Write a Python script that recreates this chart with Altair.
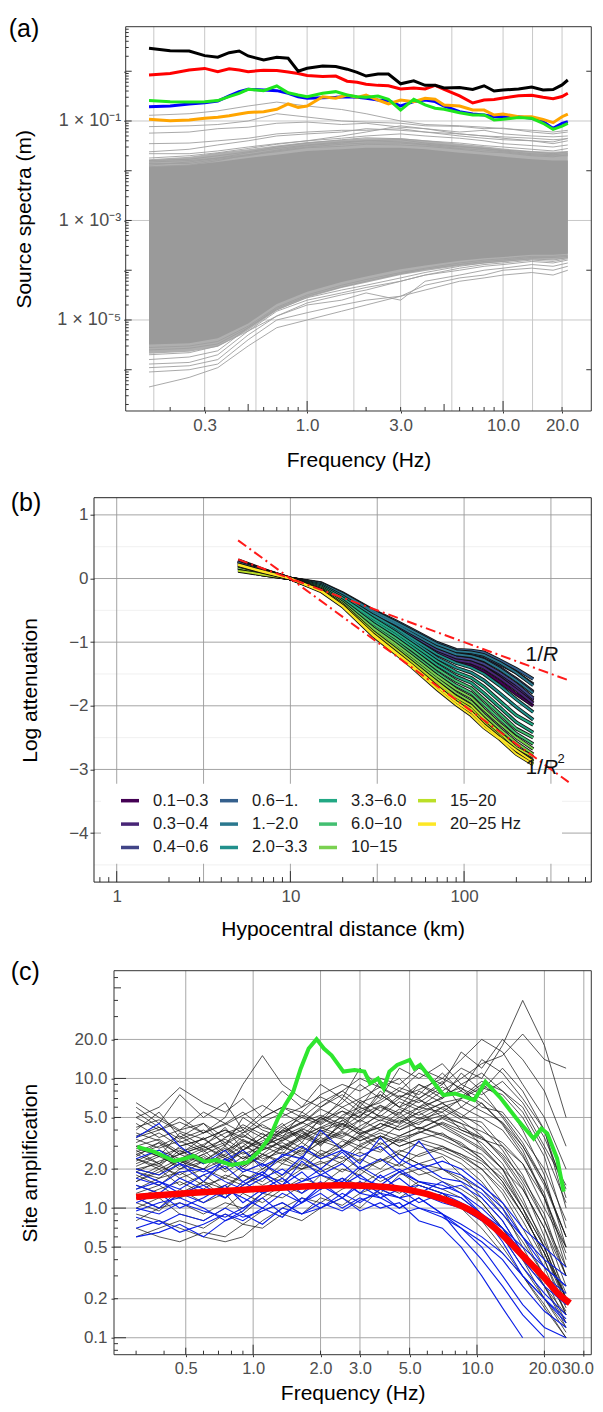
import altair as alt
import pandas as pd

FONT = "Liberation Sans"
GREY_TXT = "#4d4d4d"

# ======================= (a) Source spectra =======================
A_FREQ = [0.156, 0.2, 0.25, 0.3, 0.35, 0.4, 0.45, 0.5, 0.6, 0.7, 0.8, 0.9, 1.0, 1.2, 1.4, 1.6, 1.8, 2.0,
          2.3, 2.6, 3.0, 3.5, 4.0, 4.5, 5.0, 6.0, 7.0, 8.0, 9.0, 10.0, 12.0, 14.0, 16.0, 18.0, 20.0, 21.4]
A_BLACK = [2.89, 2.59, 2.55, 2.06, 1.91, 2.36, 2.55, 2.03, 1.68, 1.91, 1.82, 1.00, 1.15, 1.28, 1.24, 1.10, 0.95, 0.80,
           0.88, 0.88, 0.56, 0.64, 0.52, 0.52, 0.46, 0.47, 0.43, 0.51, 0.40, 0.42, 0.44, 0.48, 0.42, 0.43, 0.53, 0.667]
A_RED = [0.84, 0.90, 1.06, 1.14, 0.98, 1.12, 1.06, 0.98, 1.05, 1.03, 0.97, 0.90, 0.82, 0.78, 0.80, 0.63, 0.60, 0.55,
         0.52, 0.51, 0.44, 0.46, 0.44, 0.52, 0.43, 0.32, 0.23, 0.264, 0.27, 0.29, 0.32, 0.33, 0.30, 0.28, 0.31, 0.36]
A_GREEN = [0.257, 0.245, 0.241, 0.245, 0.257, 0.308, 0.36, 0.433, 0.407, 0.505, 0.37, 0.333, 0.308, 0.36, 0.389, 0.333,
           0.308, 0.299, 0.318, 0.273, 0.166, 0.273, 0.21, 0.18, 0.172, 0.147, 0.132, 0.132, 0.105, 0.108, 0.117, 0.113,
           0.0898, 0.068, 0.079, 0.0898]
A_BLUE = [0.194, 0.2, 0.22, 0.233, 0.252, 0.318, 0.389, 0.433, 0.42, 0.407, 0.36, 0.308, 0.286, 0.294, 0.299, 0.308,
          0.299, 0.286, 0.264, 0.257, 0.2, 0.245, 0.264, 0.245, 0.2, 0.154, 0.138, 0.132, 0.122, 0.122, 0.122, 0.113,
          0.097, 0.071, 0.0898, 0.097]
A_ORANGE = [0.108, 0.1015, 0.105, 0.113, 0.119, 0.128, 0.138, 0.148, 0.154, 0.172, 0.22, 0.188, 0.2, 0.308, 0.286, 0.333,
            0.299, 0.333, 0.264, 0.22, 0.264, 0.245, 0.286, 0.273, 0.21, 0.2, 0.166, 0.166, 0.132, 0.138, 0.122, 0.122,
            0.108, 0.0926, 0.122, 0.138]

A_GFREQ = [0.156, 0.25, 0.35, 0.5, 0.7, 1.0, 1.5, 2.0, 3.0, 4.0, 6.0, 8.0, 10.0, 14.0, 18.0, 21.4]
A_CORE_HI = [0.012, 0.013, 0.015, 0.018, 0.021, 0.025, 0.027, 0.029, 0.029, 0.027, 0.023, 0.021, 0.019, 0.017, 0.016, 0.016]
A_CORE_LO = [3.2e-6, 3.4e-6, 4.3e-6, 8.5e-6, 2.1e-5, 3.7e-5, 5.8e-5, 7.5e-5, 1.05e-4, 1.25e-4, 1.55e-4, 1.75e-4, 1.85e-4,
             2.05e-4, 2.05e-4, 2.15e-4]
A_HALO_HI = [0.017, 0.019, 0.023, 0.027, 0.032, 0.038, 0.042, 0.045, 0.045, 0.041, 0.035, 0.031, 0.028, 0.025, 0.024, 0.025]
A_HALO_LO = [2.1e-6, 2.3e-6, 2.9e-6, 6.2e-6, 1.55e-5, 2.8e-5, 4.4e-5, 5.6e-5, 8.0e-5, 9.6e-5, 1.21e-4, 1.37e-4, 1.47e-4,
             1.62e-4, 1.62e-4, 1.72e-4]
A_GREY_UP = [
    [0.13, 0.14, 0.16, 0.20, 0.24, 0.20, 0.17, 0.14, 0.10, 0.085, 0.080, 0.075, 0.070, 0.065, 0.060, 0.065],
    [0.077, 0.080, 0.085, 0.10, 0.14, 0.12, 0.10, 0.095, 0.090, 0.080, 0.078, 0.070, 0.072, 0.060, 0.055, 0.060],
    [0.057, 0.060, 0.070, 0.075, 0.090, 0.095, 0.085, 0.090, 0.075, 0.070, 0.060, 0.065, 0.055, 0.050, 0.048, 0.050],
    [0.035, 0.036, 0.040, 0.045, 0.055, 0.060, 0.065, 0.065, 0.070, 0.060, 0.055, 0.050, 0.048, 0.045, 0.042, 0.044],
    [0.024, 0.027, 0.033, 0.040, 0.050, 0.055, 0.060, 0.070, 0.065, 0.060, 0.050, 0.045, 0.042, 0.040, 0.038, 0.045],
    [0.022, 0.022, 0.025, 0.030, 0.035, 0.040, 0.050, 0.060, 0.080, 0.070, 0.055, 0.050, 0.045, 0.040, 0.035, 0.040],
    [0.018, 0.020, 0.023, 0.028, 0.034, 0.040, 0.045, 0.050, 0.055, 0.050, 0.045, 0.040, 0.035, 0.032, 0.030, 0.033],
    [0.016, 0.017, 0.020, 0.024, 0.030, 0.036, 0.042, 0.046, 0.044, 0.040, 0.036, 0.032, 0.030, 0.027, 0.025, 0.028],
    [0.015, 0.016, 0.018, 0.021, 0.026, 0.032, 0.036, 0.040, 0.038, 0.034, 0.030, 0.028, 0.026, 0.024, 0.022, 0.024],
    [0.013, 0.015, 0.018, 0.023, 0.028, 0.033, 0.038, 0.040, 0.042, 0.036, 0.031, 0.028, 0.025, 0.022, 0.021, 0.022],
    [0.014, 0.014, 0.017, 0.020, 0.025, 0.030, 0.034, 0.036, 0.036, 0.033, 0.028, 0.026, 0.024, 0.021, 0.020, 0.020],
    [0.012, 0.013, 0.016, 0.021, 0.024, 0.029, 0.031, 0.034, 0.033, 0.031, 0.027, 0.024, 0.023, 0.020, 0.019, 0.021],
]
A_GREY_LOW = [
    [4.5e-7, 7e-7, 1.1e-6, 3e-6, 7e-6, 1.0e-5, 1.5e-5, 2e-5, 3e-5, 4e-5, 6e-5, 7e-5, 8e-5, 9e-5, 8e-5, 1.0e-4],
    [9e-7, 1.0e-6, 1.3e-6, 4e-6, 1.0e-5, 1.4e-5, 2.0e-5, 2.5e-5, 3e-5, 5e-5, 7e-5, 8e-5, 1.0e-4, 1.1e-4, 1.0e-4, 1.2e-4],
    [1.1e-6, 1.2e-6, 1.6e-6, 5e-6, 1.2e-5, 2e-5, 2.5e-5, 3.5e-5, 2.5e-5, 6e-5, 8e-5, 1.0e-4, 1.1e-4, 1.3e-4, 1.2e-4, 1.4e-4],
    [1.3e-6, 1.4e-6, 2e-6, 6e-6, 1.5e-5, 2.5e-5, 3.5e-5, 4.5e-5, 6e-5, 8e-5, 1.0e-4, 1.2e-4, 1.3e-4, 1.5e-4, 1.4e-4, 1.6e-4],
    [1.6e-6, 1.8e-6, 2.4e-6, 7e-6, 1.6e-5, 2.8e-5, 4e-5, 5e-5, 7e-5, 9e-5, 1.2e-4, 1.4e-4, 1.5e-4, 1.7e-4, 1.6e-4, 1.8e-4],
    [2e-6, 2.2e-6, 3e-6, 6e-6, 1.2e-5, 2.2e-5, 3.2e-5, 4e-5, 6e-5, 8e-5, 1.1e-4, 1.3e-4, 1.4e-4, 1.6e-4, 1.5e-4, 1.7e-4],
    [2.5e-6, 2.7e-6, 3.3e-6, 7e-6, 1.7e-5, 3.0e-5, 4.6e-5, 6e-5, 8.5e-5, 1.05e-4, 1.3e-4, 1.5e-4, 1.6e-4, 1.8e-4, 1.8e-4, 1.9e-4],
    [2.8e-6, 3.0e-6, 3.7e-6, 7.5e-6, 1.8e-5, 3.2e-5, 5e-5, 6.5e-5, 9e-5, 1.1e-4, 1.4e-4, 1.6e-4, 1.7e-4, 1.9e-4, 1.9e-4, 2.0e-4],
]
A_VGRID = [0.165, 0.3, 0.548, 1.0, 1.732, 3.0, 5.477, 10.0, 14.14, 20.0]
A_HGRID = [1e-1, 1e-3, 1e-5]
A_XLABELS = [0.3, 1.0, 3.0, 10.0, 20.0]
A_YDECADES = [1.0, 1e-1, 1e-2, 1e-3, 1e-4, 1e-5, 1e-6]

# ======================= (b) Attenuation =======================
B_DIST = [5, 7, 10, 15, 20, 30, 40, 50, 70, 90, 110, 130, 160, 200, 250]
B_BANDS = ["0.1−0.3", "0.3−0.4", "0.4−0.6", "0.6−1.", "1.−2.0", "2.0−3.3", "3.3−6.0", "6.0−10", "10−15", "15−20", "20−25 Hz"]
B_COLORS = ["#440154", "#482576", "#414487", "#35608D", "#2A788E", "#21908C", "#22A884", "#43BF71", "#7AD151", "#BBDF27", "#FDE725"]
B_LINES = {
    "0.1−0.3": [[0.28, 0.13, 0, -0.10, -0.28, -0.57, -0.75, -0.91, -1.14, -1.26, -1.30, -1.38, -1.55, -1.75, -1.92],
                [0.29, 0.14, 0, -0.10, -0.29, -0.60, -0.78, -0.95, -1.19, -1.32, -1.37, -1.46, -1.62, -1.82, -2.00]],
    "0.3−0.4": [[0.27, 0.13, 0, -0.09, -0.27, -0.55, -0.73, -0.88, -1.11, -1.22, -1.26, -1.33, -1.50, -1.70, -1.90],
                [0.28, 0.13, 0, -0.10, -0.28, -0.58, -0.76, -0.92, -1.16, -1.28, -1.32, -1.40, -1.56, -1.75, -1.96]],
    "0.4−0.6": [[0.26, 0.12, 0, -0.08, -0.25, -0.53, -0.70, -0.85, -1.07, -1.18, -1.20, -1.26, -1.40, -1.58, -1.78],
                [0.27, 0.12, 0, -0.09, -0.27, -0.56, -0.73, -0.89, -1.12, -1.24, -1.27, -1.34, -1.48, -1.66, -1.88]],
    "0.6−1.": [[0.25, 0.12, 0, -0.07, -0.23, -0.50, -0.66, -0.80, -1.01, -1.12, -1.13, -1.16, -1.28, -1.42, -1.58],
               [0.24, 0.11, 0, -0.08, -0.25, -0.52, -0.68, -0.83, -1.04, -1.15, -1.17, -1.22, -1.34, -1.48, -1.66]],
    "1.−2.0": [[0.22, 0.10, 0, -0.08, -0.24, -0.51, -0.68, -0.82, -1.03, -1.14, -1.16, -1.20, -1.32, -1.48, -1.68],
               [0.20, 0.09, 0, -0.09, -0.26, -0.54, -0.71, -0.86, -1.08, -1.19, -1.22, -1.28, -1.42, -1.60, -1.80]],
    "2.0−3.3": [[0.18, 0.08, 0, -0.10, -0.28, -0.58, -0.77, -0.94, -1.19, -1.33, -1.40, -1.50, -1.68, -1.90, -2.10],
                [0.17, 0.08, 0, -0.11, -0.30, -0.61, -0.81, -0.98, -1.25, -1.40, -1.48, -1.60, -1.80, -2.02, -2.22]],
    "3.3−6.0": [[0.16, 0.07, 0, -0.12, -0.31, -0.63, -0.84, -1.02, -1.30, -1.47, -1.56, -1.70, -1.92, -2.15, -2.30],
                [0.15, 0.07, 0, -0.13, -0.33, -0.67, -0.88, -1.07, -1.36, -1.54, -1.64, -1.80, -2.02, -2.26, -2.42]],
    "6.0−10": [[0.14, 0.06, 0, -0.14, -0.35, -0.71, -0.93, -1.12, -1.42, -1.61, -1.72, -1.90, -2.12, -2.36, -2.50],
               [0.13, 0.06, 0, -0.15, -0.37, -0.75, -0.98, -1.18, -1.48, -1.68, -1.80, -1.98, -2.20, -2.44, -2.60]],
    "10−15": [[0.17, 0.08, 0, -0.16, -0.38, -0.78, -1.02, -1.22, -1.53, -1.74, -1.87, -2.06, -2.28, -2.50, -2.68],
              [0.18, 0.09, 0, -0.17, -0.40, -0.81, -1.06, -1.27, -1.58, -1.80, -1.94, -2.14, -2.36, -2.58, -2.76]],
    "15−20": [[0.20, 0.10, 0, -0.18, -0.41, -0.84, -1.10, -1.31, -1.63, -1.86, -2.00, -2.20, -2.42, -2.66, -2.80],
              [0.12, 0.06, 0, -0.18, -0.42, -0.86, -1.12, -1.33, -1.66, -1.90, -2.05, -2.26, -2.47, -2.72, -2.86]],
    "20−25 Hz": [[0.22, 0.11, 0, -0.19, -0.43, -0.88, -1.15, -1.36, -1.70, -1.94, -2.10, -2.30, -2.50, -2.70, -2.88],
                 [0.21, 0.10, 0, -0.20, -0.44, -0.90, -1.17, -1.39, -1.74, -1.98, -2.15, -2.34, -2.52, -2.76, -2.92]],
}
B_REF_R = [5, 400]
B_REF_1R = [0.30, -1.60]
B_REF_1R2 = [0.60, -3.20]
B_VGRID = [1, 3.162, 10, 31.62, 100, 316.2]
B_HGRID = [-4, -3, -2, -1, 0, 1]
B_HMINOR = [-4.5, -3.5, -2.5, -1.5, -0.5, 0.5]

# ======================= (c) Site amplification =======================
C_FREQ = [0.3, 0.38, 0.47, 0.6, 0.75, 0.9, 1.1, 1.35, 1.65, 2.0, 2.5, 3.0, 3.7, 4.5, 5.5, 7.0, 8.5, 10.5, 13.0, 16.0, 20.0, 25.0]
C_BLACK = [
    [6.0, 4.5, 7.5, 5.0, 6.5, 4.0, 5.5, 8.0, 6.0, 9.0, 7.0, 12, 8.5, 10, 7.0, 9.5, 6.0, 8.0, 5.0, 3.0, 1.5, 0.6],
    [4.0, 5.5, 3.5, 4.5, 3.0, 5.0, 4.0, 3.5, 5.5, 4.5, 6.0, 5.0, 7.5, 6.0, 9.0, 7.0, 11, 8.0, 12, 8.0, 4.0, 1.2],
    [3.0, 2.5, 3.8, 3.0, 4.2, 2.8, 3.5, 4.5, 3.2, 5.0, 4.0, 6.5, 5.0, 4.5, 6.0, 5.5, 4.0, 3.5, 2.5, 1.5, 0.6, 0.2],
    [2.5, 3.2, 2.2, 2.8, 2.0, 3.0, 2.6, 3.4, 4.0, 3.0, 4.8, 3.8, 4.2, 5.5, 4.0, 5.0, 4.5, 3.0, 2.0, 1.0, 0.4, 0.15],
    [2.0, 1.8, 2.4, 1.6, 2.2, 2.8, 2.0, 2.5, 3.2, 2.6, 3.0, 3.6, 2.8, 3.4, 3.0, 2.6, 2.2, 1.6, 1.0, 0.5, 0.25, 0.12],
    [1.6, 2.0, 1.5, 1.8, 1.4, 1.9, 2.2, 1.7, 2.4, 2.0, 2.8, 2.3, 3.2, 2.6, 2.2, 2.5, 1.8, 1.2, 0.8, 0.45, 0.25, 0.15],
    [1.2, 1.0, 1.4, 1.1, 1.3, 0.9, 1.2, 1.5, 1.3, 1.8, 1.5, 2.0, 1.6, 1.9, 1.5, 1.3, 1.0, 0.7, 0.45, 0.3, 0.18, 0.1],
    [0.9, 0.8, 0.7, 0.6, 0.55, 0.6, 0.8, 1.0, 1.2, 1.1, 1.4, 1.6, 1.3, 1.8, 2.0, 1.6, 1.4, 1.1, 0.7, 0.4, 0.25, 0.13],
    [5.0, 6.0, 8.5, 6.5, 5.5, 7.0, 5.0, 6.0, 5.5, 7.5, 9.0, 8.0, 10, 9.0, 12, 10, 14, 20, 16, 9.0, 5.0, 2.0],
    [3.5, 4.0, 5.0, 3.8, 4.5, 5.5, 4.2, 3.8, 4.6, 5.2, 4.4, 5.8, 6.5, 8.0, 7.0, 9.0, 12, 10, 18, 40, 18, 5.0],
    [2.8, 2.2, 2.6, 3.5, 2.5, 3.0, 3.8, 2.9, 3.6, 4.2, 5.0, 4.0, 5.5, 7.0, 6.0, 8.0, 10, 13, 15, 22, 14, 12],
    [2.2, 2.6, 2.0, 2.3, 3.0, 2.4, 2.8, 4.0, 3.5, 4.2, 3.6, 4.8, 6.0, 5.2, 8.0, 6.5, 7.0, 9.0, 7.0, 4.0, 1.8, 0.5],
    [1.8, 1.5, 2.0, 2.5, 1.9, 2.3, 3.0, 2.6, 3.8, 3.2, 4.5, 3.7, 4.2, 5.0, 4.4, 6.0, 5.0, 6.5, 4.5, 2.8, 1.2, 0.35],
    [1.5, 1.3, 1.2, 1.6, 1.4, 1.8, 1.6, 2.2, 2.0, 2.6, 2.2, 3.0, 2.7, 3.5, 3.8, 4.5, 3.8, 3.2, 2.2, 1.2, 0.5, 0.2],
    [1.0, 1.2, 0.9, 0.8, 1.0, 1.3, 1.1, 1.4, 1.7, 1.5, 2.0, 1.8, 2.4, 2.1, 2.6, 3.0, 2.5, 2.0, 1.3, 0.7, 0.35, 0.15],
    [0.7, 0.6, 0.55, 0.65, 0.6, 0.75, 0.7, 0.9, 0.8, 1.0, 1.2, 1.0, 1.4, 1.2, 1.5, 1.3, 1.0, 0.8, 0.5, 0.3, 0.17, 0.1],
    [4.5, 3.5, 4.0, 5.5, 4.5, 3.8, 5.0, 6.0, 5.0, 6.5, 8.0, 10, 8.5, 7.0, 9.0, 7.5, 8.5, 6.0, 5.5, 3.5, 2.0, 0.8],
    [3.2, 3.8, 3.0, 3.4, 4.0, 3.3, 3.0, 4.0, 5.0, 4.4, 5.6, 5.0, 8.0, 6.0, 5.2, 6.5, 5.0, 4.6, 3.0, 1.8, 0.8, 0.3],
    [2.4, 2.1, 2.8, 2.2, 2.6, 3.4, 2.8, 3.2, 2.7, 3.5, 3.0, 4.0, 3.4, 4.4, 5.5, 4.2, 3.5, 2.8, 2.0, 1.4, 0.7, 0.25],
    [2.0, 2.2, 1.7, 2.0, 2.4, 2.0, 2.6, 2.2, 2.9, 2.5, 3.3, 2.8, 3.6, 3.0, 3.4, 3.8, 3.0, 2.6, 1.8, 1.0, 0.5, 0.18],
    [1.4, 1.7, 1.9, 1.5, 1.7, 1.5, 1.9, 2.4, 2.0, 2.2, 2.5, 2.0, 2.3, 2.6, 2.2, 2.0, 1.6, 1.1, 0.7, 0.4, 0.2, 0.12],
    [6.5, 5.0, 4.0, 4.5, 3.5, 4.0, 3.0, 3.5, 4.0, 5.0, 6.5, 9.0, 7.0, 12, 10, 13, 9.0, 11, 8.0, 6.0, 3.0, 1.5],
    [2.6, 3.0, 3.6, 2.8, 3.2, 2.6, 3.0, 3.8, 4.5, 6.0, 8.0, 6.5, 7.5, 6.0, 7.0, 5.0, 6.0, 5.0, 4.0, 2.5, 1.3, 0.4],
    [1.9, 1.7, 2.2, 2.6, 2.0, 2.5, 2.2, 3.0, 2.5, 3.3, 2.9, 3.5, 4.5, 4.0, 4.8, 5.5, 7.0, 8.5, 7.5, 5.0, 2.5, 0.7],
    [3.8, 3.3, 2.6, 3.0, 2.4, 2.8, 3.5, 3.0, 3.6, 3.2, 4.0, 4.8, 4.0, 3.6, 4.2, 3.7, 3.2, 2.4, 1.6, 0.9, 0.45, 0.18],
    [1.1, 0.95, 1.3, 1.6, 1.2, 1.5, 1.8, 1.6, 2.0, 2.3, 1.9, 2.4, 2.0, 2.7, 3.2, 2.8, 2.4, 1.8, 1.1, 0.6, 0.3, 0.13],
    [2.3, 2.8, 2.4, 2.0, 2.8, 3.2, 2.4, 2.7, 2.4, 3.8, 3.4, 3.0, 3.6, 3.2, 3.8, 4.6, 4.0, 3.4, 3.0, 2.2, 1.0, 0.5],
    [0.8, 1.0, 1.1, 0.9, 1.1, 1.0, 1.3, 1.2, 1.5, 1.4, 1.7, 1.5, 1.9, 2.2, 1.8, 2.0, 1.7, 1.4, 0.9, 0.55, 0.3, 0.16],
    [5.5, 4.2, 3.2, 3.8, 5.0, 9.0, 15, 9.0, 7.0, 6.0, 7.5, 6.0, 9.5, 8.0, 11, 9.0, 16, 12, 20, 14, 8.0, 3.0],
    [3.0, 3.4, 2.7, 3.1, 3.8, 4.2, 3.5, 4.3, 5.2, 4.6, 7.0, 5.5, 6.8, 8.5, 7.5, 11, 8.0, 14, 11, 7.0, 4.0, 1.0],
    [2.6, 2.2, 3.0, 3.4, 2.7, 3.6, 3.1, 4.2, 3.6, 4.8, 5.6, 4.6, 6.2, 5.4, 6.8, 5.8, 4.8, 3.6, 2.4, 1.4, 0.7, 0.3],
    [1.7, 2.1, 1.8, 2.3, 2.9, 2.4, 3.2, 2.8, 3.4, 4.0, 3.5, 4.3, 5.2, 4.6, 5.5, 6.4, 5.3, 4.2, 2.8, 1.6, 0.8, 0.35],
    [3.4, 2.9, 3.3, 2.7, 3.5, 4.4, 3.7, 3.3, 4.1, 3.6, 5.2, 6.0, 5.1, 6.6, 5.7, 7.2, 8.0, 6.4, 4.4, 2.6, 1.2, 0.45],
    [2.1, 2.5, 2.9, 2.4, 2.2, 2.7, 2.3, 2.9, 3.5, 3.1, 3.8, 3.3, 4.0, 4.8, 4.1, 4.9, 4.2, 3.5, 2.6, 1.7, 0.9, 0.3],
    [1.3, 1.5, 1.2, 1.4, 1.8, 1.6, 2.0, 2.5, 2.1, 2.8, 2.4, 3.1, 3.6, 3.0, 3.4, 3.0, 2.6, 2.0, 1.4, 0.8, 0.4, 0.17],
    [4.2, 4.8, 3.9, 3.4, 4.0, 3.5, 4.6, 5.4, 4.5, 5.8, 4.9, 6.8, 5.6, 7.4, 6.5, 8.6, 7.2, 9.5, 8.0, 5.5, 2.8, 1.1],
    [2.9, 2.5, 2.1, 2.6, 3.1, 3.7, 3.0, 3.5, 2.9, 4.1, 4.7, 5.5, 4.7, 5.8, 4.9, 6.0, 6.8, 5.6, 4.6, 3.0, 1.6, 0.6],
    [1.6, 1.9, 2.3, 2.0, 1.7, 2.1, 2.6, 2.3, 2.8, 2.4, 3.0, 3.7, 3.1, 3.6, 4.2, 3.6, 3.1, 2.4, 1.6, 0.9, 0.45, 0.2],
    [0.6, 0.7, 0.8, 0.7, 0.9, 0.75, 0.95, 1.1, 0.9, 1.2, 1.05, 1.3, 1.5, 1.3, 1.6, 1.4, 1.2, 0.9, 0.6, 0.35, 0.2, 0.11],
    [3.6, 4.2, 3.4, 4.0, 3.2, 3.8, 4.4, 3.6, 4.2, 5.0, 4.2, 5.2, 6.2, 5.0, 6.0, 7.0, 9.0, 7.5, 9.5, 6.5, 3.5, 1.4],
    [2.4, 2.0, 2.4, 2.9, 3.4, 2.8, 3.3, 3.9, 4.6, 3.9, 4.5, 4.0, 4.8, 4.2, 5.0, 4.4, 3.6, 2.9, 2.0, 1.1, 0.55, 0.22],
    [1.9, 2.3, 2.6, 2.2, 2.5, 2.1, 2.5, 3.0, 2.6, 3.2, 3.9, 3.3, 3.8, 3.3, 3.9, 3.4, 2.9, 2.3, 1.7, 1.0, 0.5, 0.2],
    [5.0, 4.0, 4.6, 3.8, 4.4, 5.2, 6.2, 5.1, 6.0, 7.2, 6.0, 7.0, 8.6, 7.2, 8.2, 10.0, 8.4, 7.0, 5.2, 3.2, 1.6, 0.6],
    [1.2, 1.4, 1.6, 1.3, 1.5, 1.8, 1.5, 1.8, 2.2, 1.9, 2.3, 2.7, 2.3, 2.8, 2.5, 2.9, 2.6, 2.2, 1.5, 0.9, 0.45, 0.2],
    [2.7, 3.2, 2.6, 3.0, 2.5, 3.3, 2.8, 3.3, 3.9, 3.3, 4.4, 3.7, 4.5, 4.0, 4.6, 5.2, 4.5, 3.9, 3.2, 2.2, 1.2, 0.5],
]
C_BLUE = [
    [3.5, 4.5, 3.0, 2.2, 2.8, 2.0, 1.8, 2.6, 2.4, 4.0, 2.8, 2.5, 3.0, 2.2, 3.3, 2.0, 1.8, 1.4, 1.0, 0.6, 0.35, 0.25],
    [2.0, 1.8, 2.2, 1.6, 2.4, 1.9, 2.2, 1.8, 2.5, 2.0, 2.7, 2.0, 2.4, 1.9, 2.2, 1.7, 1.6, 1.3, 0.9, 0.6, 0.4, 0.3],
    [1.7, 1.5, 1.9, 2.0, 1.6, 1.4, 1.7, 2.0, 1.6, 1.8, 2.2, 1.7, 1.5, 1.9, 1.6, 1.4, 1.5, 1.2, 0.8, 0.45, 0.3, 0.2],
    [1.4, 1.6, 1.3, 1.5, 1.2, 1.6, 1.3, 1.5, 1.9, 1.4, 1.6, 1.3, 1.8, 1.4, 1.5, 1.3, 1.1, 0.9, 0.6, 0.35, 0.22, 0.15],
    [1.2, 1.0, 1.3, 1.1, 1.4, 1.2, 1.0, 1.3, 1.1, 1.5, 1.2, 1.6, 1.3, 1.2, 1.0, 0.9, 0.7, 0.5, 0.3, 0.18, 0.12, 0.1],
    [1.0, 0.9, 1.1, 0.95, 0.85, 1.0, 1.2, 0.9, 1.1, 1.3, 1.0, 1.2, 1.0, 1.1, 0.8, 0.7, 0.5, 0.3, 0.17, 0.1, None, None],
    [0.85, 0.75, 0.9, 0.8, 1.0, 0.85, 0.95, 1.1, 0.9, 1.0, 1.2, 0.95, 1.1, 0.9, 1.0, 0.85, 0.7, 0.55, 0.4, 0.25, 0.16, 0.12],
    [0.7, 0.8, 0.65, 0.75, 0.9, 0.8, 1.0, 0.85, 1.2, 1.0, 1.3, 1.1, 1.4, 1.2, 1.3, 1.1, 1.0, 0.8, 0.6, 0.4, 0.25, 0.18],
    [0.6, 0.65, 0.75, 0.6, 0.8, 0.9, 0.75, 1.0, 0.9, 1.1, 0.95, 1.15, 1.3, 1.0, 1.2, 0.9, 0.75, 0.6, 0.45, 0.3, 0.2, 0.13],
    [2.4, 2.8, 2.2, 1.9, 2.3, 2.8, 2.1, 2.5, 3.0, 2.4, 2.8, 2.2, 3.5, 2.4, 2.0, 2.3, 2.0, 1.5, 1.1, 0.7, 0.5, 0.35],
    [1.5, 1.3, 1.7, 1.4, 1.2, 1.5, 1.8, 1.4, 1.6, 2.0, 1.5, 1.8, 1.4, 1.7, 1.3, 1.6, 1.3, 0.9, 0.55, 0.3, 0.2, 0.14],
    [1.1, 1.3, 1.0, 1.2, 1.5, 1.1, 1.4, 1.7, 1.3, 1.6, 1.2, 1.5, 1.2, 1.0, 1.2, 0.9, 0.6, 0.4, 0.25, 0.15, 0.1, None],
    [1.9, 1.6, 1.4, 1.8, 2.1, 1.6, 1.9, 1.5, 2.3, 1.8, 1.6, 2.1, 1.7, 2.0, 1.6, 1.5, 1.3, 1.0, 0.7, 0.45, 0.3, 0.22],
    [0.95, 1.1, 1.2, 1.0, 0.8, 0.95, 1.3, 1.5, 1.1, 1.4, 1.7, 1.3, 1.2, 1.4, 1.1, 1.3, 1.2, 0.9, 0.7, 0.5, 0.35, 0.25],
]
C_GREEN_F = [0.304, 0.363, 0.443, 0.488, 0.54, 0.607, 0.684, 0.80, 0.94, 1.06, 1.19, 1.29, 1.39, 1.51, 1.63, 1.77,
             1.92, 2.07, 2.24, 2.53, 2.84, 3.14, 3.33, 3.61, 3.83, 4.06, 4.4, 5.0, 5.26, 5.57, 6.28, 7.07, 7.96, 9.72,
             10.9, 12.8, 15.0, 17.9, 19.4, 20.6, 22.8, 24.4]
C_GREEN_V = [2.97, 2.72, 2.31, 2.39, 2.53, 2.28, 2.35, 2.15, 2.25, 2.72, 3.55, 4.91, 6.24, 7.89, 11.9, 17.0, 20.1, 17.0,
             15.1, 11.3, 11.6, 11.3, 9.15, 10.0, 8.37, 11.3, 12.7, 13.9, 11.9, 12.7, 9.72, 7.45, 7.66, 6.81, 9.44, 7.01,
             4.91, 3.44, 4.11, 3.77, 2.41, 1.34]
C_RED_F = [0.3, 0.5, 1.0, 1.6, 2.5, 3.0, 4.0, 5.0, 7.0, 10, 13, 16, 20, 23, 26]
C_RED_V = [1.22, 1.3, 1.4, 1.46, 1.5, 1.49, 1.45, 1.38, 1.18, 0.9, 0.62, 0.43, 0.29, 0.22, 0.185]
C_LABELS_X = [0.5, 1, 2, 3, 5, 10, 20]
C_LAST_X = [30]
C_GRID_X = [0.5, 1, 2, 3, 5, 10, 20, 30]
C_LABELS_Y = [0.1, 0.2, 0.5, 1, 2, 5, 10, 20]


# ----------------------------------------------------------------
def long_df(xs, series, prefix="s"):
    rows = []
    for k, ys in enumerate(series):
        for i, (x, y) in enumerate(zip(xs, ys)):
            if y is not None:
                rows.append({"x": x, "y": y, "id": f"{prefix}{k}", "i": i})
    return pd.DataFrame(rows)


def minor_logs(lo_exp, hi_exp, mults):
    out = []
    for e in range(lo_exp, hi_exp + 1):
        for m in mults:
            out.append(m * 10.0 ** e)
    return out


ONE = pd.DataFrame({"k": [0]})
W = 497.3  # every panel's plot group starts at the same x; the visible frame starts at x0


def vgrid(vals, xs, color, width=1.0):
    return alt.Chart(pd.DataFrame({"x": vals})).mark_rule(color=color, strokeWidth=width).encode(x=xs("x"))


def hgrid(vals, ys, color, x0, width=1.0):
    return alt.Chart(pd.DataFrame({"y": vals})).mark_rule(color=color, strokeWidth=width).encode(
        y=ys("y"), x=alt.value(x0), x2=alt.value(W))


def xticks_in(vals, xs, H, length, color="#333"):
    return alt.Chart(pd.DataFrame({"x": vals})).mark_rule(color=color, strokeWidth=1).encode(
        x=xs("x"), y=alt.value(H), y2=alt.value(H - length))


def yticks_in(vals, ys, x0, length, color="#333"):
    return alt.Chart(pd.DataFrame({"y": vals})).mark_rule(color=color, strokeWidth=1).encode(
        y=ys("y"), x=alt.value(x0), x2=alt.value(x0 + length))


def frame(x0, H, color="#333333"):
    return alt.Chart(ONE).mark_rect(filled=False, stroke=color, strokeWidth=1).encode(
        x=alt.value(x0), x2=alt.value(W), y=alt.value(0), y2=alt.value(H))


def panel_label(text, dx, dy):
    return alt.Chart(ONE).mark_text(
        text=text, align="left", baseline="top", fontSize=25, font=FONT, color="black"
    ).encode(x=alt.value(dx), y=alt.value(dy))


def axis(**kw):
    base = dict(grid=False, domain=False, tickColor="#333", labelFontSize=17, labelColor=GREY_TXT,
                labelOverlap=False, labelFlush=False, titleFontSize=21, titleColor="black",
                titleFontWeight="normal", labelFont=FONT, titleFont=FONT)
    base.update(kw)
    return alt.Axis(**base)


# ======================= build (a) =======================
A_X0, A_H = 31.7, 384.3
A_XS = alt.Scale(type="log", domain=[0.1186, 28.2], nice=False, range=[A_X0, W])
A_YS = alt.Scale(type="log", domain=[1.48e-7, 7.86], nice=False)
A_XAX = axis(values=A_XLABELS, format=".1f", title="Frequency (Hz)", tickSize=2, labelPadding=5, titleY=38.7)
A_YAX = axis(values=A_YDECADES, title="Source spectra (m)", tickSize=2, labelPadding=3, offset=-A_X0, titleX=-91.7,
             labelFontSize=18,
             labelExpr="round(log(datum.value)/LN10) == -1 ? '1 × 10⁻¹' : round(log(datum.value)/LN10) == -3 ? '1 × 10⁻³' : round(log(datum.value)/LN10) == -5 ? '1 × 10⁻⁵' : ''")


def a_x(f):
    return alt.X(f"{f}:Q", scale=A_XS, axis=A_XAX)


def a_y(f):
    return alt.Y(f"{f}:Q", scale=A_YS, axis=A_YAX)


a_core = pd.DataFrame({"x": A_GFREQ, "lo": A_CORE_LO, "hi": A_CORE_HI})
a_halo = pd.DataFrame({"x": A_GFREQ, "lo": A_HALO_LO, "hi": A_HALO_HI})
a_layers = [
    vgrid(A_VGRID, a_x, "#c8c8c8"),
    hgrid(A_HGRID, a_y, "#c8c8c8", A_X0),
    alt.Chart(a_halo).mark_area(color="#afafaf", opacity=1).encode(x=a_x("x"), y=a_y("lo"), y2="hi:Q"),
    alt.Chart(a_core).mark_area(color="#9a9a9a", opacity=1).encode(x=a_x("x"), y=a_y("lo"), y2="hi:Q"),
    alt.Chart(long_df(A_GFREQ, A_GREY_UP + A_GREY_LOW, "g")).mark_line(color="#9f9f9f", strokeWidth=0.9)
    .encode(x=a_x("x"), y=a_y("y"), detail="id:N", order="i:Q"),
]
for vals, col in [(A_BLUE, "#0000ff"), (A_ORANGE, "#ffa500"), (A_GREEN, "#1ee61e"), (A_RED, "#ff0000"), (A_BLACK, "#000000")]:
    a_layers.append(
        alt.Chart(pd.DataFrame({"x": A_FREQ, "y": vals})).mark_line(color=col, strokeWidth=3)
        .encode(x=a_x("x"), y=a_y("y"))
    )
a_layers += [
    xticks_in([1.0, 10.0], a_x, A_H, 10),
    xticks_in([0.5, 5.0], a_x, A_H, 7),
    xticks_in([0.2, 0.3, 0.4, 0.6, 0.7, 0.8, 0.9, 2, 3, 4, 6, 7, 8, 9, 20], a_x, A_H, 4),
    yticks_in(A_YDECADES, a_y, A_X0, 6),
    yticks_in([v for v in minor_logs(-7, 0, [2, 3, 4, 5, 6, 7, 8, 9]) if 1.5e-7 < v < 7.8], a_y, A_X0, 3),
    yticks_in([1.0, 1e-2, 1e-4, 1e-6], a_y, W - 5, 5),
    frame(A_X0, A_H),
    panel_label("(a)", -85.3, -10),
]
panel_a = alt.layer(*a_layers).properties(width=W, height=A_H)

# ======================= build (b) =======================
B_H = 384.4
B_XS = alt.Scale(type="log", domain=[0.74, 540], nice=False)
B_YS = alt.Scale(type="linear", domain=[-4.77, 1.27], nice=False, zero=False)
B_XAX = axis(values=[1, 10, 100], format="d", title="Hypocentral distance (km)", ticks=False, labelPadding=6.8,
             titleY=36.3)
B_YAX = axis(values=B_HGRID, format="d", title="Log attenuation", tickSize=4, labelPadding=2, titleX=-53.3)


def b_x(f):
    return alt.X(f"{f}:Q", scale=B_XS, axis=B_XAX)


def b_y(f):
    return alt.Y(f"{f}:Q", scale=B_YS, axis=B_YAX)


b_layers = [
    hgrid(B_HMINOR, b_y, "#ececec", 0, 0.8),
    hgrid(B_HGRID, b_y, "#9a9a9a", 0, 0.9),
    vgrid(B_VGRID, b_x, "#9a9a9a", 0.9),
]
for band, col in zip(B_BANDS, B_COLORS):
    rows = []
    for k, ys in enumerate(B_LINES[band]):
        for i, (x, y) in enumerate(zip(B_DIST, ys)):
            rows.append({"x": x, "y": y, "id": f"{band}_{k}", "i": i})
    dfb = pd.DataFrame(rows)
    b_layers.append(alt.Chart(dfb).mark_line(color="#111111", strokeWidth=3.6)
                    .encode(x=b_x("x"), y=b_y("y"), detail="id:N", order="i:Q"))
    b_layers.append(alt.Chart(dfb).mark_line(color=col, strokeWidth=1.9)
                    .encode(x=b_x("x"), y=b_y("y"), detail="id:N", order="i:Q"))
for ref in (B_REF_1R, B_REF_1R2):
    b_layers.append(alt.Chart(pd.DataFrame({"x": B_REF_R, "y": ref})).mark_line(
        color="#ff1a1a", strokeWidth=2, strokeDash=[10, 4, 2, 4]).encode(x=b_x("x"), y=b_y("y")))

b_txt = pd.DataFrame({"x": [285], "y": [-1.2]})
b_txt2 = pd.DataFrame({"x": [285], "y": [-2.97]})
b_sup = pd.DataFrame({"x": [345], "y": [-2.84]})
for dft in (b_txt, b_txt2):
    b_layers.append(alt.Chart(dft).mark_text(text="1/", align="right", baseline="middle", fontSize=21, font=FONT,
                                             color="#111").encode(x=b_x("x"), y=b_y("y")))
    b_layers.append(alt.Chart(dft).mark_text(text="R", align="left", baseline="middle", fontSize=21, font=FONT,
                                             fontStyle="italic", color="#111").encode(x=b_x("x"), y=b_y("y")))
b_layers.append(alt.Chart(b_sup).mark_text(text="2", align="left", baseline="middle", fontSize=13, font=FONT,
                                           color="#111").encode(x=b_x("x"), y=b_y("y")))
# legend box (drawn with marks, inside the plot)
b_layers.append(alt.Chart(ONE).mark_rect(color="white").encode(
    x=alt.value(7), x2=alt.value(468), y=alt.value(286), y2=alt.value(366)))
for j, (band, col) in enumerate(zip(B_BANDS, B_COLORS)):
    cx, ry = j // 3, j % 3
    x1 = 27 + 99 * cx
    yy = 303 + 23.4 * ry
    b_layers.append(alt.Chart(ONE).mark_rule(color=col, strokeWidth=3.5).encode(
        x=alt.value(x1), x2=alt.value(x1 + 18), y=alt.value(yy)))
    b_layers.append(alt.Chart(ONE).mark_text(text=band, align="left", baseline="middle", fontSize=16.5, font=FONT,
                                             color="#1a1a1a").encode(x=alt.value(x1 + 32), y=alt.value(yy)))
b_layers += [
    xticks_in([1, 10, 100], b_x, B_H, 11),
    xticks_in([0.8, 0.9, 2, 3, 4, 5, 6, 7, 8, 9, 20, 30, 40, 50, 60, 70, 80, 90, 200, 300, 400, 500], b_x, B_H, 5),
    frame(0, B_H, "#222222"),
    panel_label("(b)", -83.3, -6.6),
]
panel_b = alt.layer(*b_layers).properties(width=W, height=B_H)

# ======================= build (c) =======================
C_X0, C_H = 20.0, 384.0
C_XS = alt.Scale(type="log", domain=[0.239, 32.4], nice=False, range=[C_X0, W])
C_YS = alt.Scale(type="log", domain=[0.074, 67.8], nice=False)
C_XAX = axis(values=C_LABELS_X, format=".1f", title="Frequency (Hz)", tickSize=2, labelPadding=4, labelFontSize=16.5,
             titleY=28)
C_YAX = axis(values=C_LABELS_Y, format=".1f", title="Site amplification", tickSize=3, labelPadding=4, offset=-C_X0,
             titleX=-73.3)


def c_x(f):
    return alt.X(f"{f}:Q", scale=C_XS, axis=C_XAX)


def c_y(f):
    return alt.Y(f"{f}:Q", scale=C_YS, axis=C_YAX)


c_layers = [
    vgrid(C_GRID_X, c_x, "#a8a8a8"),
    hgrid(C_LABELS_Y, c_y, "#a8a8a8", C_X0),
    alt.Chart(long_df(C_FREQ, C_BLACK, "k")).mark_line(color="#1a1a1a", strokeWidth=0.75)
    .encode(x=c_x("x"), y=c_y("y"), detail="id:N", order="i:Q"),
    alt.Chart(long_df(C_FREQ, C_BLUE, "b")).mark_line(color="#0a1ee6", strokeWidth=1.1)
    .encode(x=c_x("x"), y=c_y("y"), detail="id:N", order="i:Q"),
    alt.Chart(pd.DataFrame({"x": C_GREEN_F, "y": C_GREEN_V})).mark_line(color="#2ee62e", strokeWidth=4)
    .encode(x=c_x("x"), y=c_y("y")),
    alt.Chart(pd.DataFrame({"x": C_RED_F, "y": C_RED_V})).mark_line(color="#ff0000", strokeWidth=6.5,
                                                                    interpolate="monotone")
    .encode(x=c_x("x"), y=c_y("y")),
    xticks_in([1.0, 10.0], c_x, C_H, 10),
    xticks_in([0.5, 5.0], c_x, C_H, 7),
    xticks_in([0.3, 0.4, 0.6, 0.7, 0.8, 0.9, 2, 3, 4, 6, 7, 8, 9, 20, 30], c_x, C_H, 4),
    xticks_in(C_LAST_X, c_x, C_H + 2, 2),
    yticks_in([0.1, 1.0, 10.0], c_y, C_X0, 12),
    yticks_in([0.5, 5.0, 50.0], c_y, C_X0, 7),
    yticks_in([0.08, 0.09, 0.2, 0.3, 0.4, 0.6, 0.7, 0.8, 0.9, 2, 3, 4, 6, 7, 8, 9, 20, 30, 40, 60], c_y, C_X0, 4),
    # last tick label (drawn as text so it can sit a little left, as in the figure)
    alt.Chart(pd.DataFrame({"x": C_LAST_X, "t": ["30.0"]})).mark_text(
        align="center", baseline="top", fontSize=16.5, font=FONT, color=GREY_TXT, dx=-6
    ).encode(x=c_x("x"), y=alt.value(C_H + 6), text="t:N"),
    frame(C_X0, C_H),
    panel_label("(c)", -83.3, -10.3),
]
panel_c = alt.layer(*c_layers).properties(width=W, height=C_H)

chart = (
    alt.vconcat(panel_a, panel_b, panel_c, spacing=20)
    .properties(padding={"left": 0, "top": 8.7, "right": 0, "bottom": 0})
    .configure(font=FONT)
    .configure_view(stroke="transparent", strokeWidth=0)
)

chart.save("out.html", embed_options={"renderer": "svg", "actions": False})
